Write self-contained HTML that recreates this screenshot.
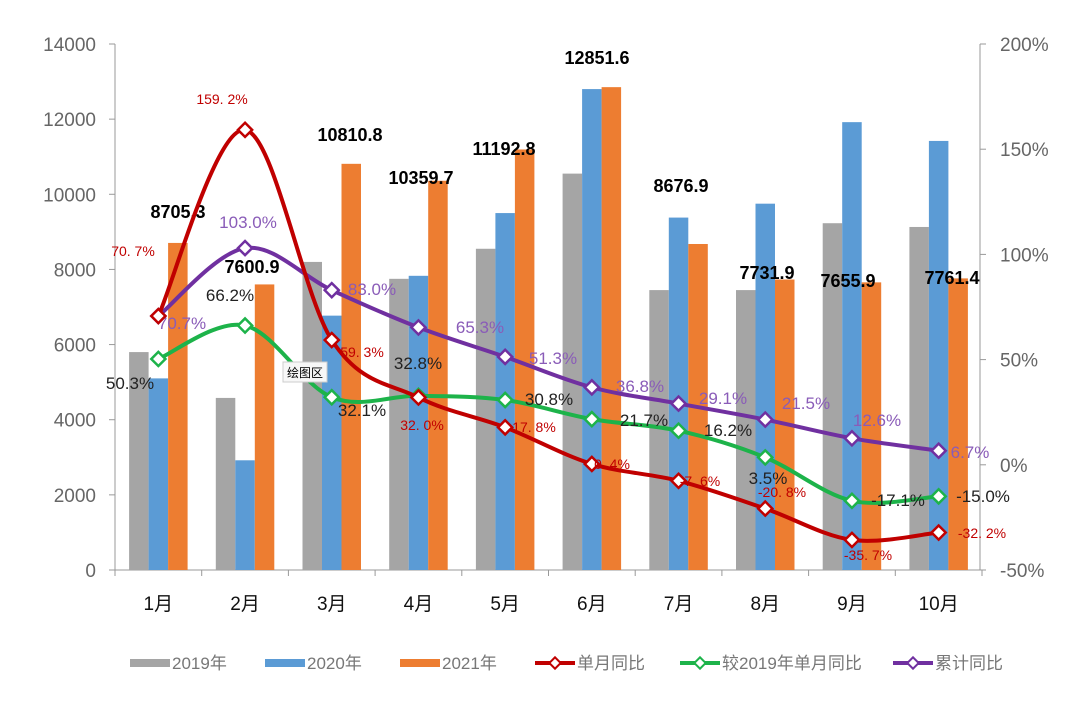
<!DOCTYPE html>
<html><head><meta charset="utf-8"><style>
body{margin:0;background:#fff}
svg{display:block;font-family:"Liberation Sans","Noto Sans CJK SC",sans-serif}
</style></head><body>
<svg id="c" width="1080" height="706"></svg>
<script>
const categories=["1月","2月","3月","4月","5月","6月","7月","8月","9月","10月"];
const s2019=[5800,4580,8200,7750,8550,10550,7450,7450,9230,9130];
const s2020=[5100,2920,6770,7830,9500,12800,9380,9750,11920,11420];
const s2021=[8705.3,7600.9,10810.8,10359.7,11192.8,12851.6,8676.9,7731.9,7655.9,7761.4];
const monthYoY=[70.7,159.2,59.3,32.0,17.8,0.4,-7.6,-20.8,-35.7,-32.2];
const vs2019=[50.3,66.2,32.1,32.8,30.8,21.7,16.2,3.5,-17.1,-15.0];
const cumYoY=[70.7,103.0,83.0,65.3,51.3,36.8,29.1,21.5,12.6,6.7];
const leftTicks=[0,2000,4000,6000,8000,10000,12000,14000];
const rightTicks=[-50,0,50,100,150,200];
// label placements (layout, absolute text positions)
const barLblPos=[[178,218],[252,273],[350,141],[421,184],[504,155],[597,64],[681,192],[767,279],[848,287],[952,284]];
const redLblPos=[[133,256],[222,104],[362,357],[422,430],[534,432],[612,469],[700,486],[782,497],[868,560],[982,538]];
const grnLblPos=[[130,389],[230,301],[362,416],[418,369],[549,405],[644,426],[728,436],[768,484],[898,506],[983,502]];
const purLblPos=[[182,329],[248,228],[372,295],[480,333],[553,364],[640,392],[723,404],[806,409],[877,426],[970,458]];

const NS="http://www.w3.org/2000/svg",svg=document.getElementById('c');
function el(t,a,p){const e=document.createElementNS(NS,t);for(const k in a)if(a[k]!==undefined)e.setAttribute(k,a[k]);(p||svg).appendChild(e);return e;}
const X0=115,step=86.7;
const xc=i=>X0+step*(i+0.5);
const yL=v=>570-v*526/14000;
const yR=v=>570-(v+50)*526/250;

const ax=el('g',{});
el('line',{x1:115,y1:44,x2:115,y2:570,stroke:'#999'},ax);
el('line',{x1:980,y1:44,x2:980,y2:570,stroke:'#999'},ax);
el('line',{x1:115,y1:570,x2:980,y2:570,stroke:'#999'},ax);
leftTicks.forEach(v=>{const y=yL(v);el('line',{x1:109,y1:y,x2:115,y2:y,stroke:'#999'},ax);
 const t=el('text',{x:96,y:y+7,'text-anchor':'end','font-size':19,fill:'#666'},ax);t.textContent=v;
 });
rightTicks.forEach(v=>{const y=yR(v);el('line',{x1:980,y1:y,x2:986,y2:y,stroke:'#999'},ax);
 const t=el('text',{x:1000,y:y+7,'font-size':19,fill:'#666'},ax);t.textContent=v+'%';
 });
for(let i=0;i<=categories.length;i++){const x=X0+step*i;el('line',{x1:x,y1:570,x2:x,y2:576,stroke:'#999'},ax);}
categories.forEach((c,i)=>{const t=el('text',{x:xc(i),y:610,'text-anchor':'middle','font-size':19,fill:'#111'},ax);t.textContent=c;
 });

const bw=19.5;
[[s2019,'#a5a5a5',-1.5],[s2020,'#5b9bd5',-0.5],[s2021,'#ed7d31',0.5]].forEach(([d,col,o],si)=>{
 d.forEach((v,i)=>{const b=el('rect',{x:xc(i)+o*bw,y:yL(v),width:bw,height:570-yL(v),fill:col});
  });
});
s2021.forEach((v,i)=>{const t=el('text',{x:barLblPos[i][0],y:barLblPos[i][1],'text-anchor':'middle','font-size':18,'font-weight':'bold',fill:'#000'});t.textContent=v.toFixed(1);
 });

function smooth(pts){let d=`M${pts[0][0]},${pts[0][1]}`;
 for(let i=0;i<pts.length-1;i++){const p0=pts[i-1]||pts[i],p1=pts[i],p2=pts[i+1],p3=pts[i+2]||p2;
  const c1=[p1[0]+(p2[0]-p0[0])/6,p1[1]+(p2[1]-p0[1])/6],c2=[p2[0]-(p3[0]-p1[0])/6,p2[1]-(p3[1]-p1[1])/6];
  d+=` C${c1[0]},${c1[1]} ${c2[0]},${c2[1]} ${p2[0]},${p2[1]}`;}return d;}
function line(data,col,name,lbl,lblCol,fmt){
 const g=el('g',{});
 const pts=data.map((v,i)=>[xc(i),yR(v)]);
 el('path',{d:smooth(pts),fill:'none',stroke:col,'stroke-width':4},g);
 pts.forEach(p=>{const m=el('rect',{x:p[0]-5,y:p[1]-5,width:10,height:10,fill:'#fff',stroke:col,'stroke-width':2.5,transform:`rotate(45 ${p[0]} ${p[1]})`},g);
  });
 data.forEach((v,i)=>{const t=el('text',{x:lbl[i][0],y:lbl[i][1],'text-anchor':'middle','font-size':fmt.size,fill:lblCol},g);t.textContent=fmt.sep?v.toFixed(1).replace('.','. ')+'%':v.toFixed(1)+'%';
  });
}
line(vs2019,'#1db34a','vs-2019-line',grnLblPos,'#222',{size:17});
line(cumYoY,'#7030a0','cumulative-line',purLblPos,'#8a5cb8',{size:17});
line(monthYoY,'#c00000','monthly-yoy-line',redLblPos,'#c00000',{size:14,sep:true});

const tg=el('g',{});
el('rect',{x:283,y:362,width:44,height:20,fill:'#f7f7f7',stroke:'#ccc'},tg);
const tt=el('text',{x:305,y:377,'text-anchor':'middle','font-size':12,fill:'#000'},tg);tt.textContent='绘图区';

const legend=[['2019年','#a5a5a5','bar',130],['2020年','#5b9bd5','bar',265],['2021年','#ed7d31','bar',400],['单月同比','#c00000','line',535],['较2019年单月同比','#1db34a','line',680],['累计同比','#7030a0','line',893]];
legend.forEach(([n,col,type,x])=>{const g=el('g',{});
 if(type=='bar')el('rect',{x:x,y:659,width:40,height:8,fill:col},g);
 else{el('line',{x1:x,y1:663,x2:x+40,y2:663,stroke:col,'stroke-width':4},g);el('rect',{x:x+16,y:659,width:8,height:8,fill:'#fff',stroke:col,'stroke-width':2,transform:`rotate(45 ${x+20} 663)`},g);}
 const t=el('text',{x:x+42,y:669,'font-size':17,fill:'#777'},g);t.textContent=n;});
</script>
</body></html>
